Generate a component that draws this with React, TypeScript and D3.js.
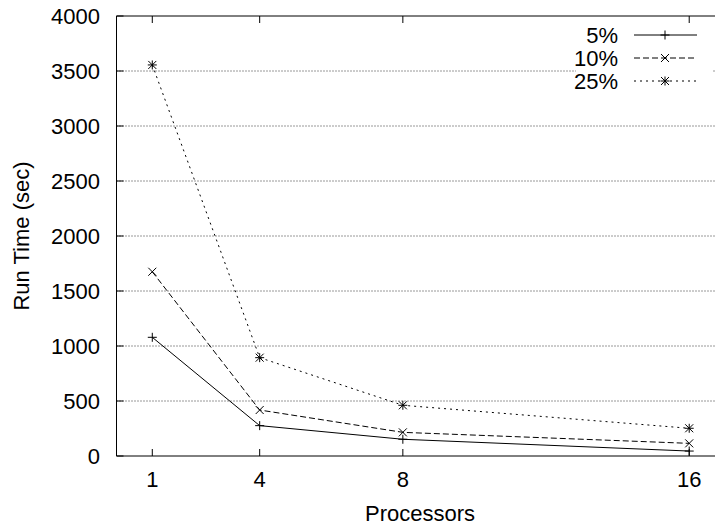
import React from "react";
import * as d3 from "d3";

const processors = [1, 4, 8, 16];
const series5 = [1079, 276, 152, 45];
const series10 = [1675, 418, 215, 115];
const series25 = [3555, 894, 461, 252];
const yTicks = [0, 500, 1000, 1500, 2000, 2500, 3000, 3500, 4000];
const seriesNames = ["5%", "10%", "25%"];

const W = 715;
const H = 527;
const FONT = "'Liberation Sans', Arial, Helvetica, sans-serif";

function Marker({ kind, x, y }: { kind: string; x: number; y: number }) {
  const p = 4.5;
  const c = 4;
  const plus = (
    <g>
      <line x1={x - p} x2={x + p} y1={y} y2={y} />
      <line x1={x} x2={x} y1={y - p} y2={y + p} />
    </g>
  );
  const cross = (
    <g>
      <line x1={x - c} x2={x + c} y1={y - c} y2={y + c} />
      <line x1={x - c} x2={x + c} y1={y + c} y2={y - c} />
    </g>
  );
  if (kind === "plus") return plus;
  if (kind === "cross") return cross;
  return (
    <g>
      {plus}
      {cross}
    </g>
  );
}

export default function App() {
  const x = d3.scaleLinear().domain([0, 17]).range([116.5, 725]);
  const y = d3.scaleLinear().domain([0, 4000]).range([456, 16]);
  const left = x(0);
  const top = y(4000);
  const bottom = y(0);

  const data = [
    { name: seriesNames[0], values: series5, dash: "none", marker: "plus" },
    { name: seriesNames[1], values: series10, dash: "6,3", marker: "cross" },
    { name: seriesNames[2], values: series25, dash: "2,4", marker: "star" },
  ];

  const line = d3
    .line<number>()
    .x((_, i) => x(processors[i]))
    .y((d) => y(d));

  const legendY = [35, 58, 81];

  return (
    <svg
      width={W}
      height={H}
      style={{ position: "absolute", left: 0, top: 0, background: "#fff" }}
      fontFamily={FONT}
    >
      <rect x={0} y={0} width={W} height={H} fill="#fff" />
      {/* grid */}
      {yTicks
        .filter((t) => t > 0 && t < 4000)
        .map((t) => (
          <line
            key={"g" + t}
            x1={left}
            x2={W}
            y1={y(t)}
            y2={y(t)}
            stroke="#333"
            strokeWidth={1}
            strokeDasharray="1,2"
          />
        ))}
      {/* legend background */}
      <rect x={576} y={22} width={136} height={70} fill="#fff" />
      {/* frame */}
      <line x1={left} x2={left} y1={top} y2={bottom} stroke="#000" />
      <line x1={left} x2={W} y1={top} y2={top} stroke="#000" />
      <line x1={left} x2={W} y1={bottom} y2={bottom} stroke="#000" />
      {/* y ticks */}
      {yTicks.map((t) => (
        <g key={"y" + t}>
          <line x1={left} x2={left + 7} y1={y(t)} y2={y(t)} stroke="#000" />
          <text
            x={100}
            y={y(t)}
            dy="0.36em"
            textAnchor="end"
            fontSize={22}
            fill="#000"
          >
            {t}
          </text>
        </g>
      ))}
      {/* x ticks */}
      {processors.map((p) => (
        <g key={"x" + p}>
          <line x1={x(p)} x2={x(p)} y1={bottom} y2={bottom - 7} stroke="#000" />
          <line x1={x(p)} x2={x(p)} y1={top} y2={top + 7} stroke="#000" />
          <text x={x(p)} y={487} textAnchor="middle" fontSize={22} fill="#000">
            {p}
          </text>
        </g>
      ))}
      {/* axis titles */}
      <text x={420} y={521} textAnchor="middle" fontSize={22} fill="#000">
        Processors
      </text>
      <text
        transform={`translate(29,${(top + bottom) / 2}) rotate(-90)`}
        textAnchor="middle"
        fontSize={22}
        fill="#000"
      >
        Run Time (sec)
      </text>
      {/* series */}
      {data.map((s) => (
        <g key={s.name} stroke="#000" strokeWidth={1} fill="none">
          <path d={line(s.values) || ""} strokeDasharray={s.dash} />
          {s.values.map((v, i) => (
            <Marker key={i} kind={s.marker} x={x(processors[i])} y={y(v)} />
          ))}
        </g>
      ))}
      {/* legend */}
      {data.map((s, i) => (
        <g key={"l" + s.name}>
          <text
            x={618}
            y={legendY[i]}
            dy="0.36em"
            textAnchor="end"
            fontSize={22}
            fill="#000"
          >
            {s.name}
          </text>
          <g stroke="#000" strokeWidth={1} fill="none">
            <line
              x1={634}
              x2={697}
              y1={legendY[i]}
              y2={legendY[i]}
              strokeDasharray={s.dash}
            />
            <Marker kind={s.marker} x={665} y={legendY[i]} />
          </g>
        </g>
      ))}
    </svg>
  );
}
